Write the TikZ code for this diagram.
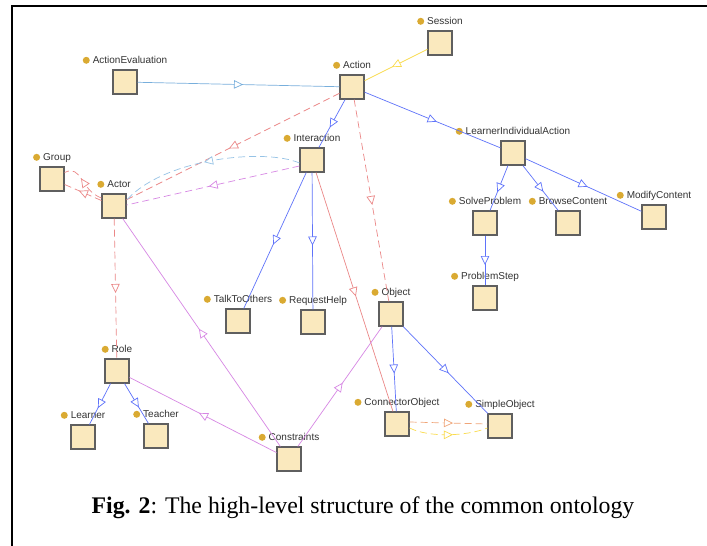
\documentclass[tikz,border=0pt]{standalone}
\usepackage{fontspec}
\setmainfont{Liberation Serif}
\newfontfamily\lblfont{Liberation Sans}
\usetikzlibrary{arrows.meta,decorations.markings,calc}
\definecolor{subblue}{RGB}{95,115,250}
\definecolor{lblue}{RGB}{120,175,220}
\definecolor{lblue2}{RGB}{150,195,230}
\definecolor{yel}{RGB}{250,220,80}
\definecolor{redl}{RGB}{235,135,135}
\definecolor{vio}{RGB}{215,135,228}
\definecolor{orng}{RGB}{240,165,120}
\definecolor{boxfill}{RGB}{250,233,190}
\definecolor{boxdraw}{RGB}{95,95,95}
\definecolor{dotc}{RGB}{218,170,50}
\newcommand\gdot{\tikz[baseline=-3.4pt]\fill[dotc](0,0) circle (3.5pt);}
\tikzset{
  lbl/.style={font=\lblfont\fontsize{10}{12}\selectfont, text=black!80, inner sep=0pt, text depth=0pt, yshift=5.5pt},
  cls/.style={draw=boxdraw, line width=1.2pt, fill=boxfill, minimum size=24pt, inner sep=0pt,
    label={[lbl]above:{\gdot\hspace{3pt}#1}}},
  midtri/.style={postaction={decorate, decoration={markings, mark=at position 0.5 with
    {\arrow[xshift=4.5pt]{Triangle[length=9pt,width=8.5pt,fill=white,line width=0.7pt]}}}}},
  edge/.style={line width=0.7pt, midtri},
  sub/.style={edge, subblue},
  dsh/.style={dash pattern=on 7pt off 4pt},
}
\begin{document}
\begin{tikzpicture}[x=1pt,y=-1pt]
\useasboundingbox (0,0) rectangle (707,546);
\fill[white] (0,0) rectangle (707,546);
\draw[line width=2pt] (11.5,546) -- (11.5,6) -- (707,6);

% classes
\node[cls=Session] (ses) at (440,43) {};
\node[cls=Action] (act) at (352,87) {};
\node[cls=ActionEvaluation] (ae) at (125,82) {};
\node[cls=Interaction] (inter) at (312,160) {};
\node[cls=Group] (grp) at (52,179) {};
\node[cls=Actor] (actor) at (114,206) {};
\node[cls=LearnerIndividualAction] (lia) at (513,153) {};
\node[cls=SolveProblem] (sp) at (485,223) {};
\node[cls=BrowseContent] (bc) at (568,223) {};
\node[cls=ModifyContent] (mc) at (654,217) {};
\node[cls=ProblemStep] (ps) at (485,298) {};
\node[cls=TalkToOthers] (tto) at (238,321) {};
\node[cls=RequestHelp] (rh) at (313,322) {};
\node[cls=Object] (obj) at (391,314) {};
\node[cls=Role] (role) at (117,371) {};
\node[cls=Learner] (lrn) at (83,437) {};
\node[cls=Teacher] (tch) at (156,436) {};
\node[cls=Constraints] (cons) at (289,459) {};
\node[cls=ConnectorObject] (co) at (397,424) {};
\node[cls=SimpleObject] (so) at (500,426) {};

% edges
\draw[edge, lblue] (ae) -- (act);
\draw[edge, yel] (ses) -- (act);
\draw[sub] (act) -- (inter);
\draw[sub] (act) -- (lia);
\draw[sub] (lia) -- (sp);
\draw[sub] (lia) -- (bc);
\draw[sub] (lia) -- (mc);
\draw[sub] (sp) -- (ps);
\draw[sub] (inter) -- (tto);
\draw[sub] (inter) -- (rh);
\draw[edge, redl] (inter) -- (co);
\draw[edge, redl, dsh] (act) -- (obj);
\draw[edge, redl, dsh] (act) -- (actor);
\draw[edge, lblue2, dsh] ($(inter.west)+(0,3)$) .. controls (265,148) and (165,158) .. ($(actor.east)+(0,-6)$);
\draw[edge, vio, dsh] ($(inter.west)+(0,6)$) -- ($(actor.east)+(0,-1)$);
\draw[edge, redl, dsh] (actor) -- (grp);
\draw[edge, redl, dsh] ($(actor.west)+(0,-8)$) .. controls (80,190) and (82,164) .. ($(grp.east)+(0,-6.5)$);
\draw[edge, redl, dsh] (actor) -- (role);
\draw[edge, vio] (cons) -- (actor);
\draw[edge, vio] (cons) -- (role);
\draw[edge, vio] (cons) -- (obj);
\draw[sub] (role) -- (lrn);
\draw[sub] (role) -- (tch);
\draw[sub] (obj) -- (co);
\draw[sub] (obj) -- (so);
\draw[edge, orng, dsh] ($(co.east)+(0,-2)$) -- ($(so.west)+(0,-2)$);
\draw[edge, yel, dsh] ($(co.east)+(0,4)$) .. controls +(20,10) and +(-20,8) .. ($(so.west)+(0,2)$);

\node[anchor=base, inner sep=0pt, font=\fontsize{23.8}{28}\selectfont] (cap) at (363,513)
  {\textbf{Fig. 2}: The high-level structure of the common ontology};
\end{tikzpicture}
\end{document}
